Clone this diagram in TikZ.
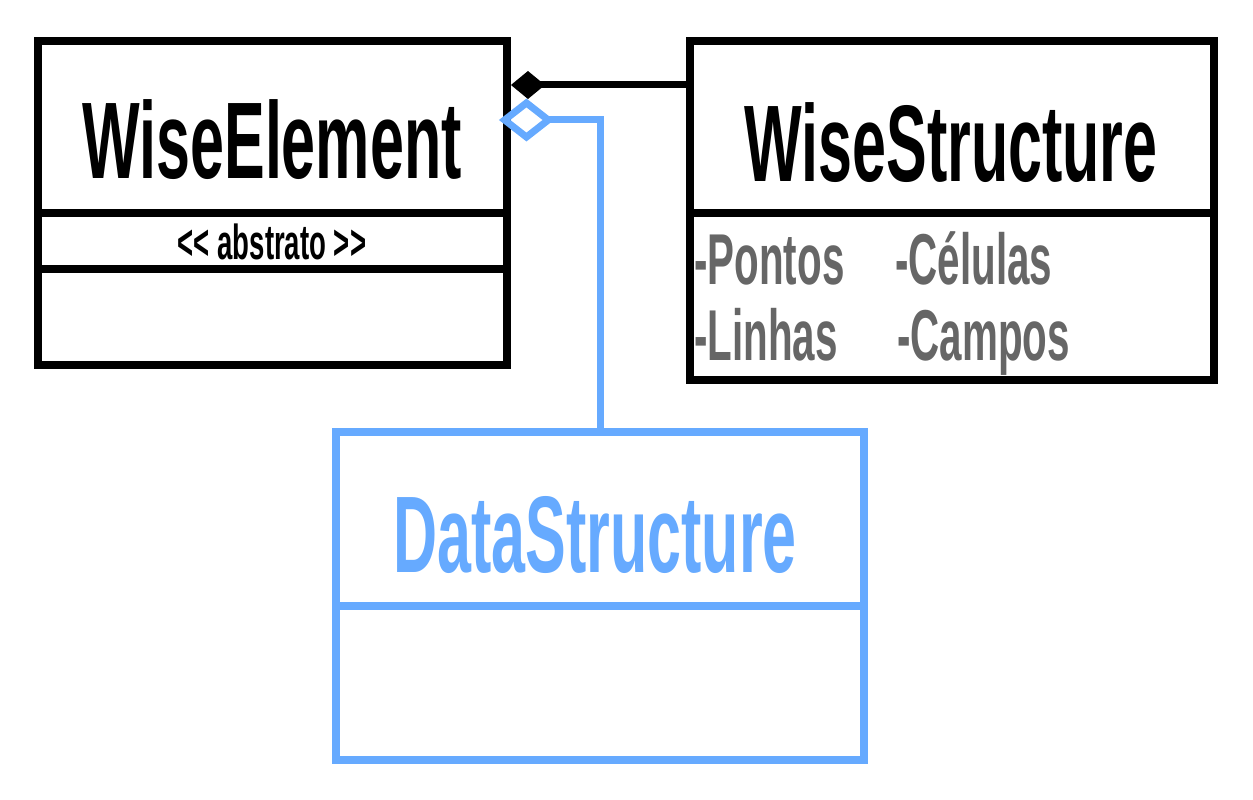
\documentclass[tikz,border=0pt]{standalone}
\usepackage{fontspec}
\newfontfamily\umlfont{Liberation Sans}[FakeStretch=0.56]
\usepackage{xcolor}
\usepackage{tikz}
\usetikzlibrary{arrows.meta}

\definecolor{umlblue}{HTML}{66AAFF}
\definecolor{attrgray}{HTML}{666666}

\begin{document}
\begin{tikzpicture}[
    x=0.02cm, y=-0.02cm,
    classbox/.style={draw, line width=0.16cm, inner sep=0pt},
    divider/.style={line width=0.16cm},
    conn/.style={line width=0.14cm},
    title/.style={inner sep=0pt, font=\umlfont\bfseries\fontsize{62}{62}\selectfont},
    stereo/.style={inner sep=0pt, font=\umlfont\bfseries\fontsize{28}{28}\selectfont},
    attr/.style={inner sep=0pt, anchor=base west, text=attrgray, font=\umlfont\bfseries\fontsize{41}{41}\selectfont}
]
\useasboundingbox (0,0) rectangle (1253,800);

\node[classbox, minimum width=9.38cm, minimum height=6.48cm] (elem) at (272.5,203) {};
\node[classbox, minimum width=10.48cm, minimum height=6.78cm] (struct) at (952,210.5) {};
\node[classbox, umlblue, minimum width=10.56cm, minimum height=6.56cm] (data) at (600,596) {};

\draw[divider] (elem.west |- 0,213) -- (elem.east |- 0,213);
\draw[divider] (elem.west |- 0,269) -- (elem.east |- 0,269);
\draw[divider] (struct.west |- 0,213) -- (struct.east |- 0,213);
\draw[divider, umlblue] (data.west |- 0,606) -- (data.east |- 0,606);

\node[title] (elemName) at (272,140) {WiseElement};
\node[stereo] (elemStereo) at (272,242) {<< abstrato >>};
\node[title] (structName) at (951,143) {WiseStructure};
\node[title, text=umlblue] (dataName) at (595,535) {DataStructure};

\node[attr] (pontos) at (694,285) {-Pontos};
\node[attr] (celulas) at (895,285) {-Células};
\node[attr] (linhas) at (694,360) {-Linhas};
\node[attr] (campos) at (897,360) {-Campos};

\draw[conn, {Diamond[length=0.68cm, width=0.56cm]}-] (elem.east |- 0,85) -- (struct.west |- 0,85);
\draw[conn, umlblue, {Diamond[open, length=1.1cm, width=0.86cm]}-, shorten <=-0.24cm] (elem.east |- 0,120) -| (data.north);
\end{tikzpicture}
\end{document}
